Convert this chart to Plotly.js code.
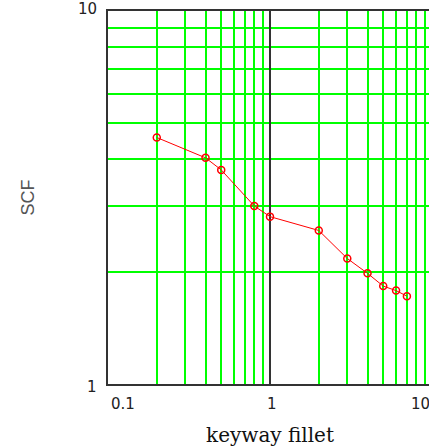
<!DOCTYPE html>
<html>
<head>
<meta charset="utf-8">
<script src="https://cdn.plot.ly/plotly-3.0.1.min.js"></script>
<style>
html,body{margin:0;padding:0;overflow:hidden;background:#fff;}
#chart{width:440px;height:448px;}
</style>
</head>
<body>
<div id="chart"></div>
<script>
// Data
var filletRatio = [0.2, 0.4, 0.5, 0.8, 1, 2, 3, 4, 5, 6, 7];
var scfValues   = [4.58, 4.04, 3.75, 3.0, 2.81, 2.58, 2.17, 1.98, 1.83, 1.78, 1.72];
var xTickVals   = [0.1, 1, 10];
var xTickText   = ['0.1', '1', '10'];
var yTickVals   = [1, 10];
var yTickText   = ['1', '10'];
var refLineX    = [1, 1];
var refLineY    = [1, 10];

var traces = [
  {
    x: refLineX, y: refLineY, mode: 'lines', type: 'scatter',
    line: {color: '#333333', width: 2}, hoverinfo: 'skip', showlegend: false
  },
  {
    x: filletRatio, y: scfValues, mode: 'lines+markers', type: 'scatter',
    line: {color: '#ff0000', width: 1},
    marker: {symbol: 'circle-open', size: 7, color: '#ff0000', line: {width: 1.5, color: '#ff0000'}},
    showlegend: false
  }
];

var anchors = ['left', 'center', 'right'];
var shifts = [1, 2, 0];
var annotations = [];
xTickVals.forEach(function (v, i) {
  annotations.push({
    x: Math.log10(v), xref: 'x', y: 0, yref: 'paper',
    text: xTickText[i], showarrow: false,
    xanchor: anchors[i], yanchor: 'top', xshift: shifts[i], yshift: -9,
    font: {family: 'DejaVu Sans, sans-serif', size: 15, color: '#222'}
  });
});
yTickVals.forEach(function (v, i) {
  annotations.push({
    x: 0, xref: 'paper', y: Math.log10(v), yref: 'y',
    text: yTickText[i], showarrow: false,
    xanchor: 'right', yanchor: 'middle', xshift: -9, yshift: (i === 0 ? -3 : 2),
    font: {family: 'DejaVu Sans, sans-serif', size: 15, color: '#222'}
  });
});

var layout = {
  width: 440, height: 448,
  margin: {l: 108, r: 8, t: 11, b: 64},
  paper_bgcolor: '#ffffff', plot_bgcolor: '#ffffff',
  showlegend: false,
  annotations: annotations,
  xaxis: {
    type: 'log', range: [-1, 1], dtick: 'D1',
    showticklabels: false, ticks: '',
    showgrid: true, gridcolor: '#00ff00', gridwidth: 2,
    showline: true, linecolor: '#333333', linewidth: 2, mirror: true,
    zeroline: false,
    title: {text: 'keyway fillet', standoff: 43,
      font: {family: 'DejaVu Serif, serif', size: 20, color: '#111'}}
  },
  yaxis: {
    type: 'log', range: [0, 1], dtick: 'D1',
    showticklabels: false, ticks: '',
    showgrid: true, gridcolor: '#00ff00', gridwidth: 2,
    showline: true, linecolor: '#333333', linewidth: 2, mirror: true,
    zeroline: false,
    title: {text: 'SCF', standoff: 67,
      font: {family: 'Liberation Sans, Arial, sans-serif', size: 18, color: '#555'}}
  }
};

Plotly.newPlot('chart', traces, layout, {staticPlot: true, displayModeBar: false});
</script>
</body>
</html>
